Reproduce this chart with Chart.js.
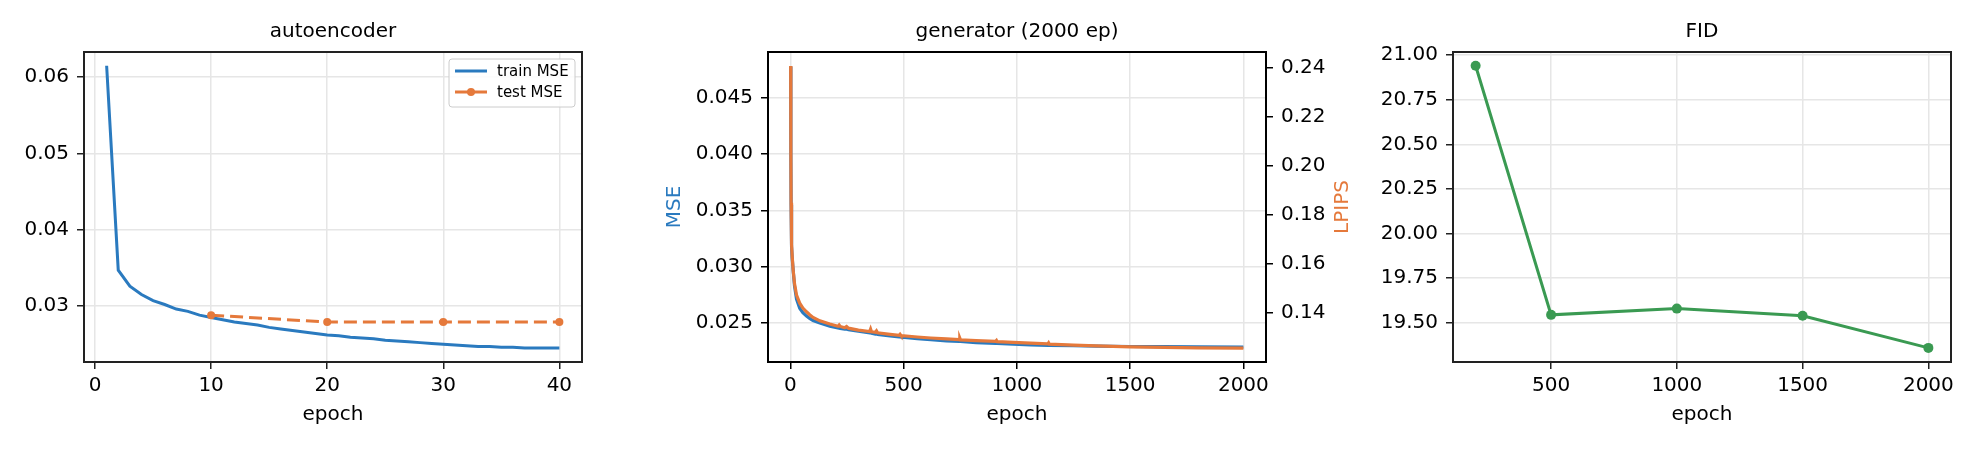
<!DOCTYPE html>
<html>
<head>
<meta charset="utf-8">
<script src="https://cdn.jsdelivr.net/npm/chart.js@4.4.0/dist/chart.umd.min.js"></script>
<style>
  html, body { margin: 0; padding: 0; background: #fff; }
  body { width: 1980px; height: 450px; position: relative; overflow: hidden; }
  canvas { position: absolute; top: 0; }
</style>
</head>
<body>
<canvas id="ae" width="640" height="450" style="left:0px"></canvas>
<canvas id="gen" width="720" height="450" style="left:660px"></canvas>
<canvas id="fid" width="600" height="450" style="left:1380px"></canvas>
<script>
// autoencoder
var aeEpochs = [1,2,3,4,5,6,7,8,9,10,11,12,13,14,15,16,17,18,19,20,
                21,22,23,24,25,26,27,28,29,30,31,32,33,34,35,36,37,38,39,40];
var aeTrainMse = [0.0615,0.0347,0.0326,0.0315,0.0307,0.0302,0.0296,0.0293,0.0288,0.0285,
                  0.0282,0.0279,0.0277,0.0275,0.0272,0.0270,0.0268,0.0266,0.0264,0.0262,
                  0.0261,0.0259,0.0258,0.0257,0.0255,0.0254,0.0253,0.0252,0.0251,0.0250,
                  0.0249,0.0248,0.0247,0.0247,0.0246,0.0246,0.0245,0.0245,0.0245,0.0245];
var aeTestEpochs = [10,20,30,40];
var aeTestMse = [0.0288,0.0279,0.0279,0.0279];
var aeXTicks = [0,10,20,30,40];
var aeYTicks = [0.03,0.04,0.05,0.06];

// generator
var genEpochs = [1,2,3,4,6,8,12,18,27,41,55,71,85,100,130,174,210,215,220,240,248,256,
                 300,350,354,358,375,380,385,440,480,484,488,560,620,689,745,748,751,
                 820,906,910,913,984,1060,1137,1140,1143,1250,1350,1500,1650,1800,2000];
var genMse = [0.0478,0.0400,0.0355,0.0334,0.0318,0.0307,0.0297,0.0283,0.0271,0.0263,0.0259,0.0256,
              0.0254,0.0252,0.0250,0.0247,0.02455,0.02453,0.0245,0.02445,0.02443,0.0244,
              0.02425,0.0241,0.02412,0.02408,0.0240,0.02402,0.02398,0.02385,0.02375,0.02376,0.02373,
              0.0236,0.0235,0.0234,0.02335,0.02336,0.02334,
              0.02325,0.02318,0.02319,0.02317,0.0231,0.02305,0.0230,0.02301,0.02299,
              0.02297,0.02294,0.0229,0.02288,0.02286,0.02285];
var genLpips = [0.2408,0.2050,0.1850,0.1760,0.1680,0.1630,0.1576,0.1520,0.1473,0.1440,0.1420,0.1405,
                0.1393,0.1382,0.1368,0.1355,0.1346,0.1351,0.1345,0.1340,0.1345,0.1338,
                0.1330,0.1324,0.1334,0.1323,0.1321,0.1327,0.1319,0.1313,0.1309,0.1313,0.1308,
                0.1302,0.1298,0.1294,0.1291,0.1297,0.1290,
                0.1287,0.1284,0.1288,0.1283,0.1280,0.1277,0.1274,0.1278,0.1273,
                0.1269,0.1266,0.1262,0.1260,0.1258,0.1257];
var genXTicks = [0,500,1000,1500,2000];
var genMseTicks = [0.025,0.030,0.035,0.040,0.045];
var genLpipsTicks = [0.14,0.16,0.18,0.20,0.22,0.24];

// FID
var fidEpochs = [200,500,1000,1500,2000];
var fidValues = [20.94,19.545,19.58,19.54,19.36];
var fidXTicks = [500,1000,1500,2000];
var fidYTicks = [19.5,19.75,20.0,20.25,20.5,20.75,21.0];

var BLUE = '#2a7abf', ORANGE = '#e5793b', GREEN = '#3a9a52';

Chart.defaults.font.family = 'DejaVu Sans';
Chart.defaults.font.size = 20;
Chart.defaults.color = '#000';
Chart.defaults.animation = false;

function pts(xs, ys) {
  return xs.map(function (x, i) { return {x: x, y: ys[i]}; });
}

function xAxis(min, max, ticks, frame) {
  return {
    type: 'linear', min: min, max: max,
    afterBuildTicks: function (s) { s.ticks = ticks.map(function (v) { return {value: v}; }); },
    afterFit: function (s) { s.height = 88; },
    grid: {color: '#e6e6e6', lineWidth: 1.5, tickColor: frame, tickLength: 7, tickWidth: 1.5},
    border: {display: false},
    ticks: {padding: 5, autoSkip: false, maxRotation: 0, callback: function (v) { return String(v); }},
    title: {display: true, text: 'epoch', padding: {top: 0, bottom: 23}}
  };
}

function yAxis(min, max, ticks, digits, width, frame, pos) {
  return {
    type: 'linear', position: pos || 'left', min: min, max: max,
    afterBuildTicks: function (s) { s.ticks = ticks.map(function (v) { return {value: v}; }); },
    afterFit: function (s) { s.width = width; },
    grid: {color: '#e6e6e6', lineWidth: 1.5, tickColor: frame, tickLength: 7, tickWidth: 1.5},
    border: {display: false},
    ticks: {padding: 8, autoSkip: false, callback: function (v) { return v.toFixed(digits); }}
  };
}

function titleOpts(text) {
  return {display: true, text: text, fullSize: false, color: '#000',
          font: {size: 20, weight: 'normal'}, padding: {top: 20, bottom: 8}};
}

var framePlugin = {
  id: 'frame',
  afterDatasetsDraw: function (chart, args, opts) {
    var a = chart.chartArea, ctx = chart.ctx;
    ctx.save();
    ctx.strokeStyle = opts.color || '#222';
    ctx.lineWidth = 2;
    ctx.strokeRect(a.left, a.top, a.right - a.left, a.bottom - a.top);
    ctx.restore();
  }
};

// legend box drawn inside the plot, top right
var boxLegend = {
  id: 'boxLegend',
  afterDraw: function (chart) {
    var a = chart.chartArea, ctx = chart.ctx;
    var x0 = a.right - 133, y0 = a.top + 7, w = 126, h = 48;
    ctx.save();
    ctx.fillStyle = 'rgba(255,255,255,0.85)';
    ctx.strokeStyle = '#cccccc';
    ctx.lineWidth = 1;
    ctx.beginPath();
    ctx.roundRect(x0, y0, w, h, 3);
    ctx.fill();
    ctx.stroke();
    ctx.font = '15px "DejaVu Sans"';
    ctx.textBaseline = 'middle';
    chart.data.datasets.forEach(function (ds, i) {
      var y = y0 + 12 + i * 21;
      ctx.strokeStyle = ds.borderColor;
      ctx.lineWidth = ds.borderWidth;
      ctx.setLineDash(ds.borderDash || []);
      ctx.beginPath();
      ctx.moveTo(x0 + 6, y);
      ctx.lineTo(x0 + 38, y);
      ctx.stroke();
      ctx.setLineDash([]);
      if (ds.pointRadius > 0) {
        ctx.fillStyle = ds.borderColor;
        ctx.beginPath();
        ctx.arc(x0 + 22, y, ds.pointRadius, 0, Math.PI * 2);
        ctx.fill();
      }
      ctx.fillStyle = '#000';
      ctx.fillText(ds.label, x0 + 48, y + 1);
    });
    ctx.restore();
  }
};

var lpipsLabel = {
  id: 'lpipsLabel',
  afterDraw: function (chart) {
    var a = chart.chartArea, ctx = chart.ctx;
    ctx.save();
    ctx.translate(a.right + 77, (a.top + a.bottom) / 2);
    ctx.rotate(-Math.PI / 2);
    ctx.font = '20px "DejaVu Sans"';
    ctx.fillStyle = ORANGE;
    ctx.textAlign = 'center';
    ctx.textBaseline = 'middle';
    ctx.fillText('LPIPS', 0, 0);
    ctx.restore();
  }
};

new Chart(document.getElementById('ae'), {
  type: 'line',
  data: {
    datasets: [
      {label: 'train MSE', data: pts(aeEpochs, aeTrainMse), borderColor: BLUE, backgroundColor: BLUE,
       borderWidth: 3, pointRadius: 0, tension: 0, order: 1},
      {label: 'test MSE', data: pts(aeTestEpochs, aeTestMse), borderColor: ORANGE, backgroundColor: ORANGE,
       borderWidth: 3, borderDash: [13, 6], pointRadius: 4, pointBorderWidth: 0,
       pointBackgroundColor: ORANGE, tension: 0, order: 0}
    ]
  },
  options: {
    responsive: false,
    layout: {padding: {left: 0, right: 58, top: 0, bottom: 0}},
    scales: {
      x: xAxis(-0.95, 41.95, aeXTicks, '#222'),
      y: yAxis(0.02266, 0.0633, aeYTicks, 2, 84, '#222')
    },
    plugins: {legend: {display: false}, tooltip: {enabled: false},
              title: titleOpts('autoencoder'), frame: {color: '#222'}}
  },
  plugins: [framePlugin, boxLegend]
});

var genY = yAxis(0.02152, 0.04908, genMseTicks, 3, 108, '#000');
genY.title = {display: true, text: 'MSE', color: BLUE, padding: {top: 3, bottom: 0}};
var genY1 = yAxis(0.1200, 0.2465, genLpipsTicks, 2, 114, '#000', 'right');
genY1.grid.drawOnChartArea = false;

new Chart(document.getElementById('gen'), {
  type: 'line',
  data: {
    datasets: [
      {label: 'MSE', data: pts(genEpochs, genMse), yAxisID: 'y', borderColor: BLUE,
       borderWidth: 3.2, pointRadius: 0, tension: 0, order: 1},
      {label: 'LPIPS', data: pts(genEpochs, genLpips), yAxisID: 'y1', borderColor: ORANGE,
       borderWidth: 3.2, pointRadius: 0, tension: 0, order: 0}
    ]
  },
  options: {
    responsive: false,
    layout: {padding: 0},
    scales: {
      x: xAxis(-99, 2100, genXTicks, '#000'),
      y: genY,
      y1: genY1
    },
    plugins: {legend: {display: false}, tooltip: {enabled: false},
              title: titleOpts('generator (2000 ep)'), frame: {color: '#000'}}
  },
  plugins: [framePlugin, lpipsLabel]
});

new Chart(document.getElementById('fid'), {
  type: 'line',
  data: {
    datasets: [
      {label: 'FID', data: pts(fidEpochs, fidValues), borderColor: GREEN, backgroundColor: GREEN,
       borderWidth: 3, pointRadius: 5, pointBorderWidth: 0, pointBackgroundColor: GREEN, tension: 0}
    ]
  },
  options: {
    responsive: false,
    layout: {padding: {left: 0, right: 29, top: 0, bottom: 0}},
    scales: {
      x: xAxis(110, 2090, fidXTicks, '#222'),
      y: yAxis(19.281, 21.017, fidYTicks, 2, 73, '#222')
    },
    plugins: {legend: {display: false}, tooltip: {enabled: false},
              title: titleOpts('FID'), frame: {color: '#222'}}
  },
  plugins: [framePlugin]
});
</script>
</body>
</html>
